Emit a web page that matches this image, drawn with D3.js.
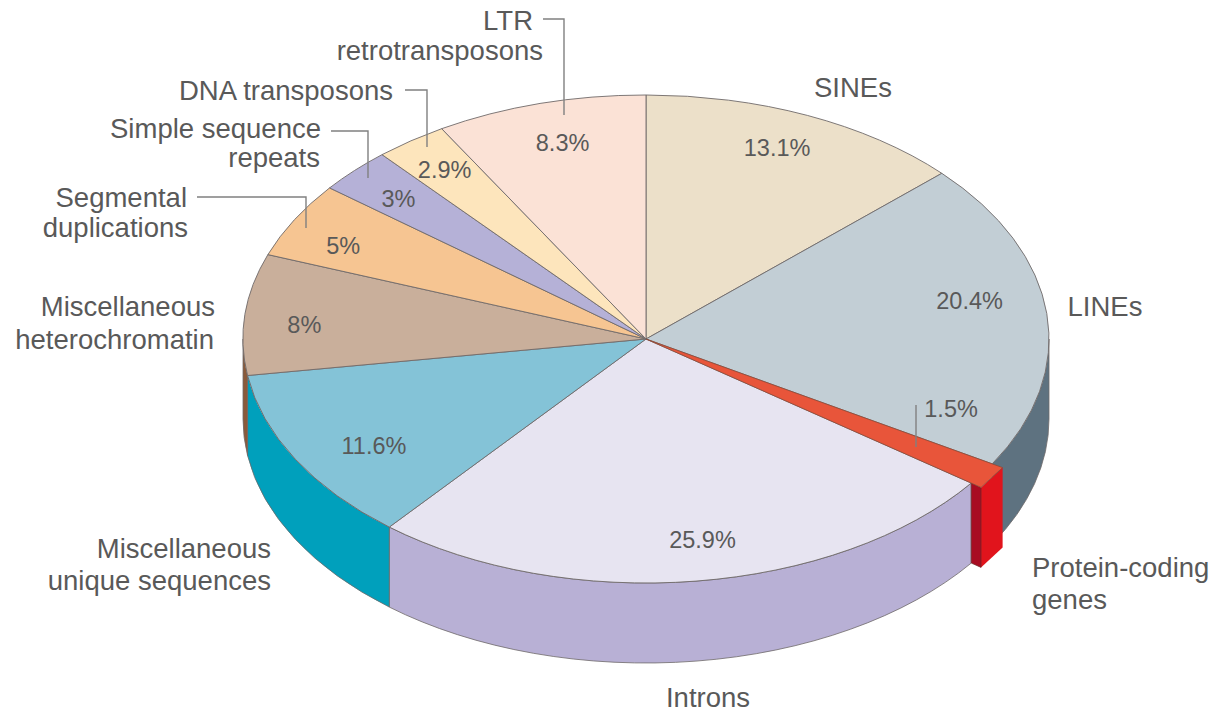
<!DOCTYPE html>
<html>
<head>
<meta charset="utf-8">
<script src="https://cdn.jsdelivr.net/npm/d3@7"></script>
<style>
  html, body { margin: 0; padding: 0; background: #fff; }
  text { font-family: "Liberation Sans", sans-serif; fill: #595959; }
</style>
</head>
<body>
<script>
var categories = ["SINEs", "LINEs", "Protein-coding genes", "Introns", "Miscellaneous unique sequences",
  "Miscellaneous heterochromatin", "Segmental duplications", "Simple sequence repeats", "DNA transposons", "LTR retrotransposons"];
var values = [13.1, 20.4, 1.5, 25.9, 11.6, 8, 5, 3, 2.9, 8.3];
var pctLabels = ["13.1%", "20.4%", "1.5%", "25.9%", "11.6%", "8%", "5%", "3%", "2.9%", "8.3%"];

var topColors = ["#ece0c9", "#c2ced5", "#e8553a", "#e7e4f1", "#84c3d7", "#c9af9b", "#f6c592", "#b5b1d7", "#fde5bc", "#fbe2d6"];
var wallColors = ["#ece0c9", "#5e7280", "#e1141c", "#b8b0d5", "#00a0bc", "#8a5a3a", "#f6c592", "#b5b1d7", "#fde5bc", "#fbe2d6"];

// percent label nudges, relative to the slice centroid
var pctNudge = [[10, -24], [23, -20], [53, -32], [19, 18], [-9, 16], [-41, 4], [-39, -5], [-29, -15], [-25, -21], [-4, -20]];

var nameLabels = [
  {text: "LTR", x: 533, y: 30, anchor: "end"},
  {text: "retrotransposons", x: 543, y: 60, anchor: "end"},
  {text: "DNA transposons", x: 393, y: 100, anchor: "end"},
  {text: "Simple sequence", x: 321, y: 138, anchor: "end"},
  {text: "repeats", x: 320, y: 167, anchor: "end"},
  {text: "Segmental", x: 187, y: 207, anchor: "end"},
  {text: "duplications", x: 188, y: 237, anchor: "end"},
  {text: "Miscellaneous", x: 215, y: 316, anchor: "end"},
  {text: "heterochromatin", x: 214, y: 349, anchor: "end"},
  {text: "Miscellaneous", x: 271, y: 558, anchor: "end"},
  {text: "unique sequences", x: 271, y: 590, anchor: "end"},
  {text: "SINEs", x: 853, y: 97, anchor: "middle"},
  {text: "LINEs", x: 1105, y: 316, anchor: "middle"},
  {text: "Protein-coding", x: 1032, y: 577, anchor: "start"},
  {text: "genes", x: 1032, y: 609, anchor: "start"},
  {text: "Introns", x: 708, y: 707, anchor: "middle"}
];

var leaders = [
  [[543, 19], [564, 19], [564, 115]],
  [[405, 90], [427, 90], [427, 147]],
  [[331, 131], [368, 131], [368, 178]],
  [[197, 197], [306, 197], [306, 228]],
  [[916, 405], [916, 447]]
];

var width = 1216, height = 712;
var cx = 646, cy = 339, rx = 403, ry = 244, depth = 80;
var k = ry / rx, wallH = depth / k;
var edge = "#6f6a6a";

var svg = d3.select("body").append("svg")
    .attr("width", width)
    .attr("height", height)
    .style("display", "block");

// the pie is drawn round in a squashed group, so the scale gives the ellipse
var pie3d = svg.append("g")
    .attr("transform", "translate(" + cx + "," + cy + ") scale(1," + k + ")");

// values only add up to 99.7, the original spreads part of that gap and the last slice closes the ring
var slices = d3.pie().sort(null)
    .endAngle(2 * Math.PI * 0.9985)(values);
slices[slices.length - 1].endAngle = 2 * Math.PI;

var arc = d3.arc().innerRadius(0).outerRadius(rx);
var PROTEIN = 2;

function polar(a, r) {
  return [r * Math.sin(a), -r * Math.cos(a)];
}

function wallPath(a0, a1) {
  var p = d3.path();
  var s = a0 - Math.PI / 2, e = a1 - Math.PI / 2;
  p.arc(0, 0, rx, s, e);
  p.arc(0, wallH, rx, e, s, true);
  p.closePath();
  return p.toString();
}

function poly(pts) {
  return d3.line()(pts) + "Z";
}

// side walls, only the front half of the pie shows them
slices.forEach(function(d, i) {
  if (i === PROTEIN) return;
  var a0 = Math.max(d.startAngle, Math.PI / 2), a1 = Math.min(d.endAngle, Math.PI * 3 / 2);
  if (a1 <= a0) return;
  pie3d.append("path")
      .attr("d", wallPath(a0, a1))
      .attr("fill", wallColors[i])
      .attr("stroke", edge)
      .attr("stroke-width", 0.8)
      .attr("vector-effect", "non-scaling-stroke");
});

// top faces
pie3d.selectAll(".slice")
    .data(slices.filter(function(d, i) { return i !== PROTEIN; }))
  .enter().append("path")
    .attr("class", "slice")
    .attr("d", arc)
    .attr("fill", function(d) { return topColors[d.index]; })
    .attr("stroke", edge)
    .attr("stroke-width", 0.9)
    .attr("vector-effect", "non-scaling-stroke");

// protein-coding wedge sticks out a little past the rim, with a square corner
var wedge = slices[PROTEIN];
var pA = polar(wedge.startAngle, rx * 1.03);
var pB = polar(wedge.endAngle, rx * 1.03);
var pC = polar(wedge.endAngle, rx);
function down(p) { return [p[0], p[1] + wallH]; }

pie3d.append("path")
    .attr("d", poly([pA, pB, down(pB), down(pA)]))
    .attr("fill", wallColors[PROTEIN]);
pie3d.append("path")
    .attr("d", poly([pB, pC, down(pC), down(pB)]))
    .attr("fill", "#a80c22")
    .attr("stroke", "#6b2a2a")
    .attr("stroke-width", 0.7)
    .attr("vector-effect", "non-scaling-stroke");
pie3d.append("path")
    .attr("d", poly([[0, 0], pA, pB, pC]))
    .attr("fill", topColors[PROTEIN])
    .attr("stroke", "#8a4a38")
    .attr("stroke-width", 0.8)
    .attr("vector-effect", "non-scaling-stroke");

// leader lines
svg.selectAll(".leader")
    .data(leaders)
  .enter().append("path")
    .attr("class", "leader")
    .attr("d", d3.line())
    .attr("fill", "none")
    .attr("stroke", "#808080")
    .attr("stroke-width", 1.4);

// percent labels
slices.forEach(function(d, i) {
  var mid = (d.startAngle + d.endAngle) / 2;
  var p = polar(mid, rx * 0.75);
  svg.append("text")
      .attr("x", cx + p[0] + pctNudge[i][0])
      .attr("y", cy + p[1] * k + pctNudge[i][1] + 9)
      .attr("text-anchor", "middle")
      .style("font-size", "23.5px")
      .text(pctLabels[i]);
});

// slice names
svg.selectAll(".name")
    .data(nameLabels)
  .enter().append("text")
    .attr("class", "name")
    .attr("x", function(d) { return d.x; })
    .attr("y", function(d) { return d.y; })
    .attr("text-anchor", function(d) { return d.anchor; })
    .style("font-size", "27.5px")
    .text(function(d) { return d.text; });
</script>
</body>
</html>
